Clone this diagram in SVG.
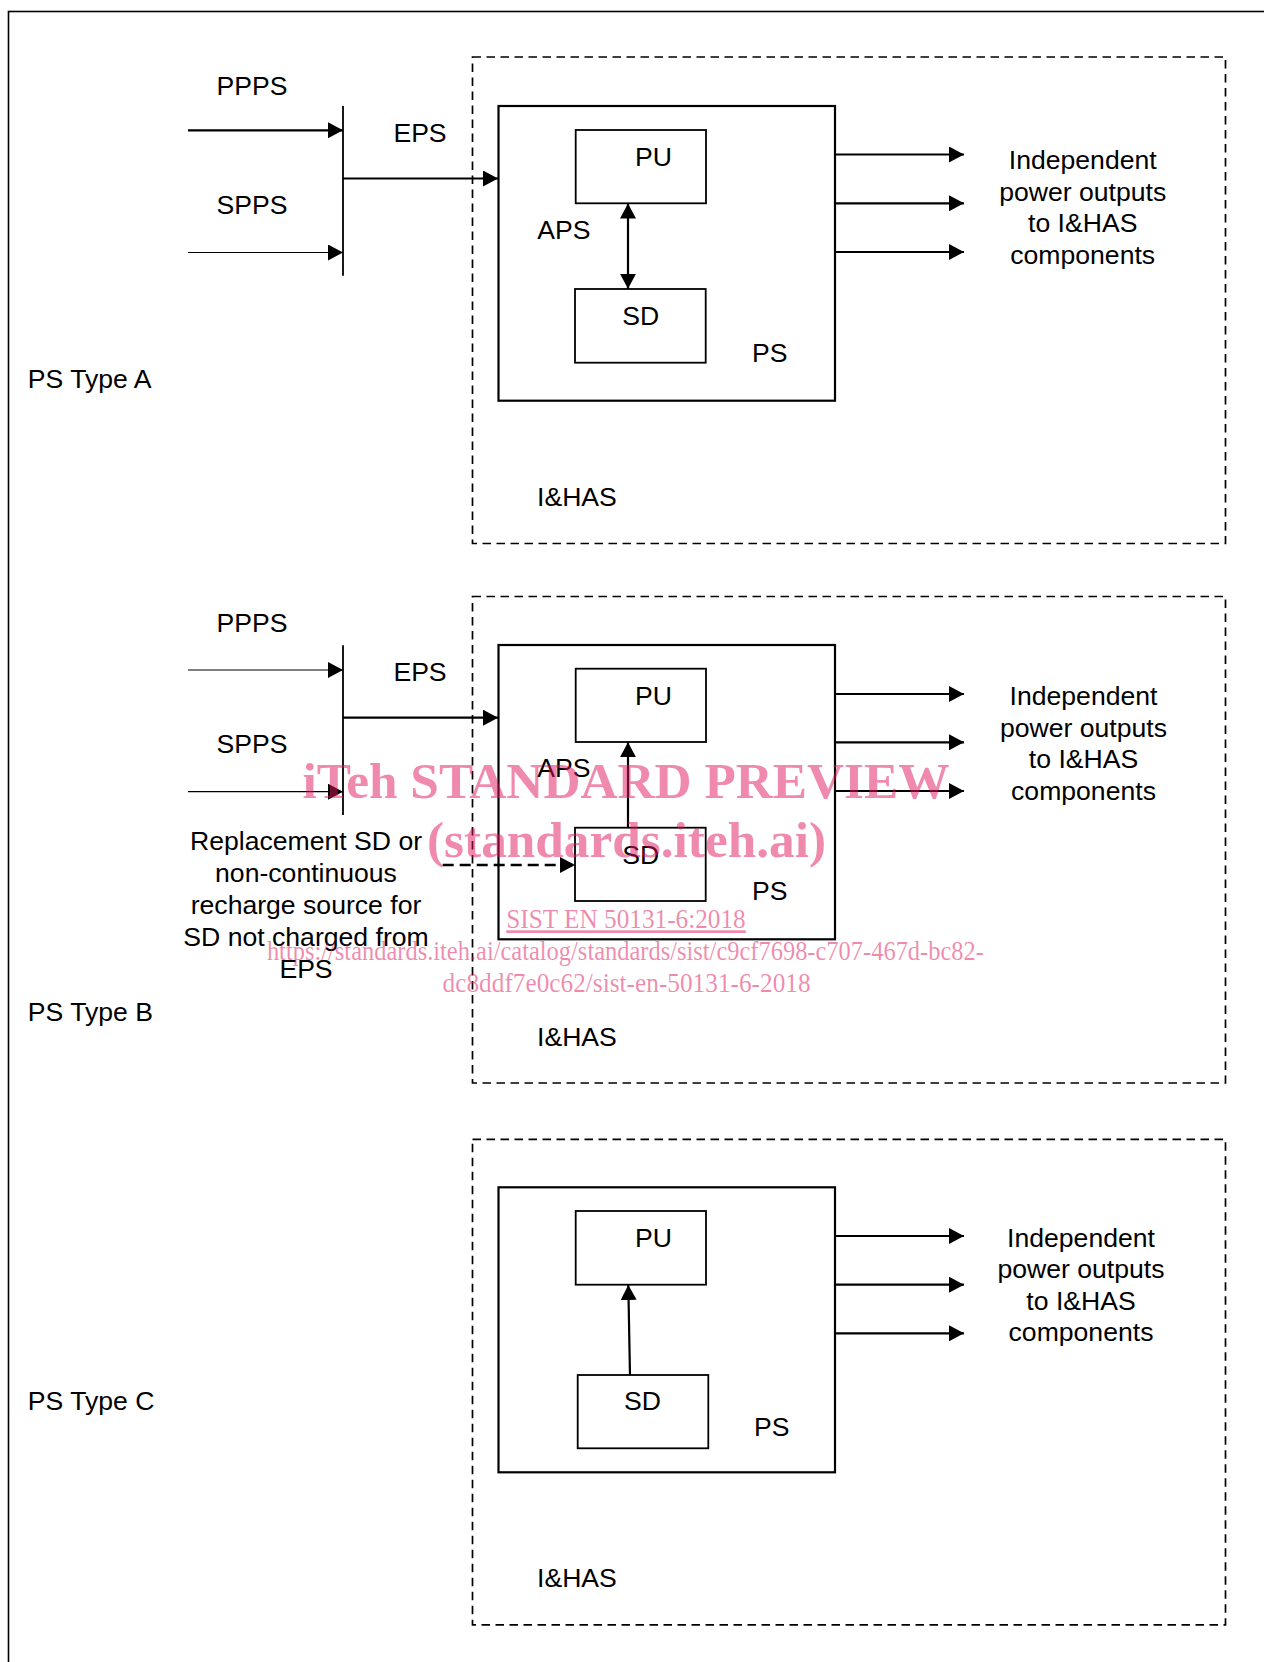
<svg xmlns="http://www.w3.org/2000/svg" width="1264" height="1662" viewBox="0 0 1264 1662">
<defs>
<marker id="ah" markerUnits="userSpaceOnUse" markerWidth="15" markerHeight="16" refX="15" refY="8" orient="auto-start-reverse" viewBox="0 0 15 16">
<path d="M0,0 L15,8 L0,16 z" fill="#000"/>
</marker>
<style>
text{font-family:"Liberation Sans",Arial,sans-serif;font-size:26.6px;fill:#000}
.mid{text-anchor:middle}
.ps{fill:none;stroke:#000;stroke-width:2.2}
.box{fill:none;stroke:#000;stroke-width:1.8}
.ihas{fill:none;stroke:#000;stroke-width:1.7;stroke-dasharray:8.5 5.5}
.frame{fill:none;stroke:#000;stroke-width:1.6}
.thick{fill:none;stroke:#000;stroke-width:2.2}
.thin{fill:none;stroke:#000;stroke-width:1.2}
.bar{fill:none;stroke:#000;stroke-width:1.8}
.dash{fill:none;stroke:#000;stroke-width:2.4;stroke-dasharray:11 6}
.wm{font-family:"Liberation Serif","Times New Roman",serif;fill:#e0165e;fill-opacity:0.5;text-anchor:middle}
.wmb{font-weight:bold;font-size:50px}
.wms{font-size:27px}
</style>
</defs>
<rect class="frame" x="8.5" y="11.5" width="1300" height="1700"/>

<g id="typeA">
<g id="ihasA"><rect class="ihas" x="472.5" y="57" width="753" height="486.5"/><text x="537" y="506">I&amp;HAS</text></g>
<g id="psA"><rect class="ps" x="498.5" y="106" width="336.5" height="294.7"/><text class="mid" x="769.7" y="361.7">PS</text></g>
<g id="puA"><rect class="box" x="575.7" y="130" width="130.3" height="73.3"/><text class="mid" x="653.5" y="166">PU</text></g>
<g id="sdA"><rect class="box" x="575" y="289" width="130.7" height="73.7"/><text class="mid" x="640.8" y="325">SD</text></g>
<text x="537.3" y="238.7">APS</text>
<text class="mid" x="252" y="95">PPPS</text>
<text class="mid" x="252" y="214.3">SPPS</text>
<text class="mid" x="420" y="141.7">EPS</text>
<text x="27.8" y="387.5">PS Type A</text>
<text class="mid" x="1082.7"><tspan x="1082.7" y="169">Independent</tspan><tspan x="1082.7" y="200.5">power outputs</tspan><tspan x="1082.7" y="232">to I&amp;HAS</tspan><tspan x="1082.7" y="263.5">components</tspan></text>
</g>

<g id="typeB">
<g id="ihasB"><rect class="ihas" x="472.5" y="596.5" width="753" height="486.5"/><text x="537" y="1045.7">I&amp;HAS</text></g>
<g id="psB"><rect class="ps" x="498.5" y="645" width="336.5" height="294.3"/><text class="mid" x="769.7" y="900.3">PS</text></g>
<g id="puB"><rect class="box" x="575.7" y="668.7" width="130.3" height="73.3"/><text class="mid" x="653.5" y="704.7">PU</text></g>
<g id="sdB"><rect class="box" x="575" y="827.7" width="130.7" height="73.3"/><text class="mid" x="640.8" y="863.7">SD</text></g>
<text x="537.3" y="777">APS</text>
<text class="mid" x="252" y="631.7">PPPS</text>
<text class="mid" x="252" y="753.3">SPPS</text>
<text class="mid" x="420" y="680.7">EPS</text>
<text x="27.8" y="1020.7">PS Type B</text>
<text class="mid" x="1083.5"><tspan x="1083.5" y="705">Independent</tspan><tspan x="1083.5" y="736.5">power outputs</tspan><tspan x="1083.5" y="768">to I&amp;HAS</tspan><tspan x="1083.5" y="799.5">components</tspan></text>
<text class="mid" x="306"><tspan x="306" y="850.3">Replacement SD or</tspan><tspan x="306" y="882.3">non-continuous</tspan><tspan x="306" y="914.3">recharge source for</tspan><tspan x="306" y="946.3">SD not charged from</tspan><tspan x="306" y="978.3">EPS</tspan></text>
</g>

<g id="typeC">
<g id="ihasC"><rect class="ihas" x="472.5" y="1139.3" width="753" height="485.5"/><text x="537" y="1587">I&amp;HAS</text></g>
<g id="psC"><rect class="ps" x="498.5" y="1187.3" width="336.5" height="285"/><text class="mid" x="771.7" y="1435.7">PS</text></g>
<g id="puC"><rect class="box" x="575.7" y="1211" width="130.3" height="73.7"/><text class="mid" x="653.5" y="1246.7">PU</text></g>
<g id="sdC"><rect class="box" x="577.7" y="1375" width="130.6" height="73.3"/><text class="mid" x="642.5" y="1410">SD</text></g>
<text x="27.8" y="1410">PS Type C</text>
<text class="mid" x="1081"><tspan x="1081" y="1246.5">Independent</tspan><tspan x="1081" y="1278">power outputs</tspan><tspan x="1081" y="1309.5">to I&amp;HAS</tspan><tspan x="1081" y="1341">components</tspan></text>
</g>

<g id="connectors">
<line class="bar" x1="343" y1="106" x2="343" y2="275.7"/>
<line class="thick" x1="188" y1="130.3" x2="343" y2="130.3" marker-end="url(#ah)"/>
<line class="thin" x1="188" y1="252.5" x2="343" y2="252.5" marker-end="url(#ah)"/>
<line class="thick" x1="343" y1="178.5" x2="498" y2="178.5" marker-end="url(#ah)"/>
<line class="thick" x1="628" y1="203.5" x2="628" y2="288.8" marker-start="url(#ah)" marker-end="url(#ah)"/>
<line class="thick" x1="835" y1="154.5" x2="964" y2="154.5" marker-end="url(#ah)"/>
<line class="thick" x1="835" y1="203.3" x2="964" y2="203.3" marker-end="url(#ah)"/>
<line class="thick" x1="835" y1="252" x2="964" y2="252" marker-end="url(#ah)"/>

<line class="bar" x1="343" y1="645.3" x2="343" y2="815"/>
<line class="thin" x1="188" y1="670" x2="343" y2="670" marker-end="url(#ah)"/>
<line class="thin" x1="188" y1="791.7" x2="343" y2="791.7" marker-end="url(#ah)"/>
<line class="thick" x1="343" y1="717.7" x2="498" y2="717.7" marker-end="url(#ah)"/>
<line class="thick" x1="628" y1="827.7" x2="628" y2="742.2" marker-end="url(#ah)"/>
<line class="dash" x1="442.7" y1="865" x2="575" y2="865" marker-end="url(#ah)"/>
<line class="thick" x1="835" y1="694" x2="964" y2="694" marker-end="url(#ah)"/>
<line class="thick" x1="835" y1="742.3" x2="964" y2="742.3" marker-end="url(#ah)"/>
<line class="thick" x1="835" y1="791" x2="964" y2="791" marker-end="url(#ah)"/>

<line class="thick" x1="630" y1="1375" x2="628.3" y2="1285" marker-end="url(#ah)"/>
<line class="thick" x1="835" y1="1236" x2="964" y2="1236" marker-end="url(#ah)"/>
<line class="thick" x1="835" y1="1284.7" x2="964" y2="1284.7" marker-end="url(#ah)"/>
<line class="thick" x1="835" y1="1333.3" x2="964" y2="1333.3" marker-end="url(#ah)"/>
</g>

<g id="watermark">
<text class="wm wmb" x="626" y="798" textLength="647" lengthAdjust="spacingAndGlyphs">iTeh STANDARD PREVIEW</text>
<text class="wm wmb" x="626.5" y="856.7" textLength="399" lengthAdjust="spacingAndGlyphs">(standards.iteh.ai)</text>
<text class="wm wms" x="626" y="928.3" textLength="239.5" lengthAdjust="spacingAndGlyphs" text-decoration="underline">SIST EN 50131-6:2018</text>
<text class="wm wms" x="625.4" y="960" textLength="717" lengthAdjust="spacingAndGlyphs">https://standards.iteh.ai/catalog/standards/sist/c9cf7698-c707-467d-bc82-</text>
<text class="wm wms" x="626.6" y="991.7" textLength="368" lengthAdjust="spacingAndGlyphs">dc8ddf7e0c62/sist-en-50131-6-2018</text>
</g>
</svg>
